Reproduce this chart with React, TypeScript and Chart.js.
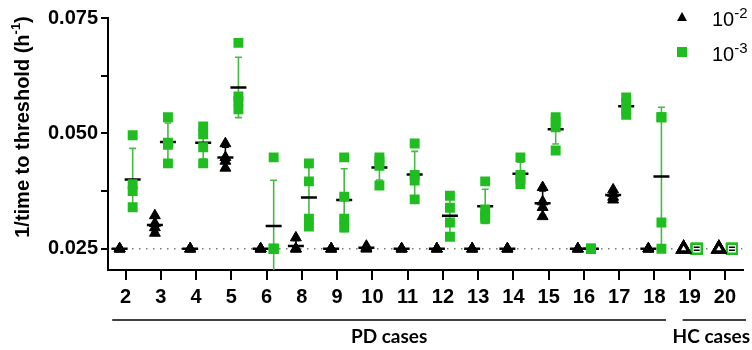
import React, { useEffect, useRef } from "react";
import { Chart, registerables } from "chart.js";

Chart.register(...registerables);

// ---------- data ----------
const caseLabels = ["2", "3", "4", "5", "6", "8", "9", "10", "11", "12", "13", "14", "15", "16", "17", "18", "19", "20"];
const hcCases = ["19", "20"];

// 1/time to threshold (h^-1), four replicates per case, dilution 10^-2
const dilution2Values: number[][] = [
  [0.025, 0.025, 0.025, 0.025],
  [0.0322, 0.0305, 0.0296, 0.0284],
  [0.025, 0.025, 0.025, 0.025],
  [0.0478, 0.0448, 0.044, 0.0425],
  [0.025, 0.025, 0.025, 0.025],
  [0.0274, 0.025, 0.025, 0.025],
  [0.025, 0.025, 0.025, 0.025],
  [0.0256, 0.0252, 0.025, 0.025],
  [0.025, 0.025, 0.025, 0.025],
  [0.025, 0.025, 0.025, 0.025],
  [0.025, 0.025, 0.025, 0.025],
  [0.025, 0.025, 0.025, 0.025],
  [0.0383, 0.0352, 0.034, 0.032],
  [0.025, 0.025, 0.025, 0.025],
  [0.0378, 0.037, 0.0362, 0.0356],
  [0.025, 0.025, 0.025, 0.025],
  [0.025, 0.025, 0.025, 0.025],
  [0.025, 0.025, 0.025, 0.025],
];

// dilution 10^-3
const dilution3Values: number[][] = [
  [0.0496, 0.039, 0.0375, 0.034],
  [0.0535, 0.048, 0.0475, 0.0435],
  [0.0515, 0.0498, 0.047, 0.0435],
  [0.0696, 0.058, 0.057, 0.0552],
  [0.0448, 0.025, 0.025, 0.025],
  [0.0435, 0.0396, 0.0315, 0.0298],
  [0.0448, 0.0363, 0.0315, 0.0296],
  [0.0448, 0.044, 0.043, 0.0387],
  [0.0478, 0.041, 0.0398, 0.0357],
  [0.0365, 0.0339, 0.0307, 0.0276],
  [0.0396, 0.0335, 0.0322, 0.0315],
  [0.0448, 0.041, 0.0402, 0.039],
  [0.0535, 0.0525, 0.0513, 0.0463],
  [0.025, 0.025, 0.025, 0.025],
  [0.0578, 0.0565, 0.0552, 0.054],
  [0.0535, 0.0535, 0.0307, 0.025],
  [0.025, 0.025, 0.025, 0.025],
  [0.025, 0.025, 0.025, 0.025],
];

const yTickValues = [0.025, 0.0375, 0.05, 0.0625, 0.075];
const yTickLabels = ["0.025", "", "0.050", "", "0.075"];
const thresholdValue = 0.025;
const seriesNames = ["10", "10"];
const seriesExponents = ["-2", "-3"];
const groupNames = ["PD cases", "HC cases"];
const yTitle = "1/time to threshold (h";
const yTitleExp = "-1";

// ---------- style ----------
const GREEN = "#1fbd1f";
const GREEN_BAR = "#45bb45";
const TRI_OFF = -0.17;
const SQ_OFF = 0.2;
const FONT = "'Liberation Sans', Arial, sans-serif";
const GROUP_FONT = "Lato, 'Liberation Sans', sans-serif";

function stats(vals: number[]) {
  const n = vals.length;
  const m = vals.reduce((a, b) => a + b, 0) / n;
  const v = vals.reduce((a, b) => a + (b - m) * (b - m), 0) / (n - 1);
  return { mean: m, sd: Math.sqrt(v) };
}

const isHC = (i: number) => hcCases.includes(caseLabels[i]);

function buildPoints(values: number[][], off: number) {
  const pts: any[] = [];
  values.forEach((reps, i) => {
    reps.forEach((v) => pts.push({ x: i + off, y: v, hc: isHC(i) }));
  });
  return pts;
}

const decorPlugin = {
  id: "decor",
  beforeDatasetsDraw(chart: any) {
    const { ctx, chartArea: a, scales } = chart;
    const x = scales.x;
    const y = scales.y;
    ctx.save();
    ctx.beginPath();
    ctx.rect(a.left, a.top - 10, a.right - a.left, a.bottom - a.top + 10);
    ctx.clip();
    // dotted threshold line
    const ty = y.getPixelForValue(thresholdValue);
    ctx.strokeStyle = "#7a7a7a";
    ctx.lineWidth = 1.5;
    ctx.setLineDash([1.5, 5.5]);
    ctx.beginPath();
    ctx.moveTo(a.left + 3, ty);
    ctx.lineTo(a.right, ty);
    ctx.stroke();
    ctx.setLineDash([]);

    const series = [
      { values: dilution2Values, off: TRI_OFF, color: "#000" },
      { values: dilution3Values, off: SQ_OFF, color: GREEN_BAR },
    ];
    series.forEach((s) => {
      s.values.forEach((reps, i) => {
        const { mean, sd } = stats(reps);
        const px = x.getPixelForValue(i + s.off);
        const pm = y.getPixelForValue(mean);
        if (sd > 1e-6) {
          const pt = y.getPixelForValue(mean + sd);
          const pb = y.getPixelForValue(mean - sd);
          ctx.strokeStyle = s.color;
          ctx.lineWidth = 1.6;
          ctx.beginPath();
          ctx.moveTo(px, pt);
          ctx.lineTo(px, pb);
          ctx.moveTo(px - 3.5, pt);
          ctx.lineTo(px + 3.5, pt);
          ctx.moveTo(px - 3.5, pb);
          ctx.lineTo(px + 3.5, pb);
          ctx.stroke();
        }
        if (!isHC(i)) {
          ctx.strokeStyle = "#000";
          ctx.lineWidth = 2.5;
          ctx.beginPath();
          ctx.moveTo(px - 8, pm);
          ctx.lineTo(px + 8, pm);
          ctx.stroke();
        }
      });
    });
    ctx.restore();
  },
  afterDatasetsDraw(chart: any) {
    const { ctx, scales } = chart;
    const x = scales.x;
    const y = scales.y;
    ctx.save();
    // mean marks inside the open markers of HC cases
    dilution3Values.forEach((reps, i) => {
      if (!isHC(i)) return;
      const { mean } = stats(reps);
      const px = x.getPixelForValue(i + SQ_OFF);
      const pm = y.getPixelForValue(mean);
      ctx.strokeStyle = "#000";
      ctx.lineWidth = 1.5;
      ctx.beginPath();
      ctx.moveTo(px - 3, pm - 1.5);
      ctx.lineTo(px + 3, pm - 1.5);
      ctx.moveTo(px - 3, pm + 1.5);
      ctx.lineTo(px + 3, pm + 1.5);
      ctx.stroke();
    });
    ctx.restore();
  },
  afterDraw(chart: any) {
    const { ctx, chartArea: a, scales } = chart;
    const x = scales.x;
    ctx.save();
    // y title, rotated, with superscript
    ctx.translate(23, 127);
    ctx.rotate(-Math.PI / 2);
    const mainFont = `bold 20px ${FONT}`;
    const supFont = `bold 13px ${FONT}`;
    ctx.font = mainFont;
    const w1 = ctx.measureText(yTitle).width;
    const w3 = ctx.measureText(")").width;
    ctx.font = supFont;
    const w2 = ctx.measureText(yTitleExp).width;
    const total = w1 + w2 + w3;
    let cx = -total / 2;
    ctx.fillStyle = "#000";
    ctx.textBaseline = "middle";
    ctx.textAlign = "left";
    ctx.font = mainFont;
    ctx.fillText(yTitle, cx, 0);
    cx += w1;
    ctx.font = supFont;
    ctx.fillText(yTitleExp, cx, -7);
    cx += w2;
    ctx.font = mainFont;
    ctx.fillText(")", cx, 0);
    ctx.restore();

    // group lines and labels
    ctx.save();
    const lineY = a.bottom + 50;
    const textY = a.bottom + 67;
    const groups = [
      { from: x.getPixelForValue(-0.38), to: x.getPixelForValue(15.33), name: groupNames[0], shift: 0 },
      { from: x.getPixelForValue(15.8), to: x.getPixelForValue(17.6), name: groupNames[1], shift: -3 },
    ];
    ctx.strokeStyle = "#000";
    ctx.lineWidth = 1.5;
    ctx.fillStyle = "#000";
    ctx.font = `bold 19px ${GROUP_FONT}`;
    ctx.textAlign = "center";
    ctx.textBaseline = "middle";
    groups.forEach((g) => {
      ctx.beginPath();
      ctx.moveTo(g.from, lineY);
      ctx.lineTo(g.to, lineY);
      ctx.stroke();
      ctx.fillText(g.name, (g.from + g.to) / 2 + g.shift, textY);
    });
    ctx.restore();

    // legend
    ctx.save();
    const lx = 682;
    const rows = [17, 52];
    ctx.fillStyle = "#000";
    ctx.beginPath();
    ctx.moveTo(lx, rows[0] - 5);
    ctx.lineTo(lx + 5, rows[0] + 4);
    ctx.lineTo(lx - 5, rows[0] + 4);
    ctx.closePath();
    ctx.fill();
    ctx.fillStyle = GREEN;
    ctx.fillRect(lx - 5, rows[1] - 5, 10, 10);
    ctx.fillStyle = "#000";
    ctx.textAlign = "left";
    ctx.textBaseline = "alphabetic";
    rows.forEach((ry, k) => {
      ctx.font = `20px ${FONT}`;
      ctx.fillText(seriesNames[k], 712, ry + 9);
      const w = ctx.measureText(seriesNames[k]).width;
      ctx.font = `15px ${FONT}`;
      ctx.fillText(seriesExponents[k], 712 + w, ry + 1);
    });
    ctx.restore();
  },
};

export default function App() {
  const ref = useRef<HTMLCanvasElement>(null);

  useEffect(() => {
    if (!ref.current) return;
    const tickFont = { family: FONT, size: 20, weight: "bold" as const };
    const chart = new Chart(ref.current, {
      type: "scatter",
      data: {
        datasets: [
          {
            label: "10^-2",
            data: buildPoints(dilution2Values, TRI_OFF),
            pointStyle: "triangle",
            pointRadius: 6.3,
            pointHoverRadius: 6.3,
            backgroundColor: (c: any) => (c.raw && c.raw.hc ? "#fff" : "#000"),
            borderColor: "#000",
            borderWidth: (c: any) => (c.raw && c.raw.hc ? 3.2 : 1),
          },
          {
            label: "10^-3",
            data: buildPoints(dilution3Values, SQ_OFF),
            pointStyle: "rect",
            pointRadius: 7,
            pointHoverRadius: 7,
            backgroundColor: (c: any) => (c.raw && c.raw.hc ? "#fff" : GREEN),
            borderColor: GREEN,
            borderWidth: (c: any) => (c.raw && c.raw.hc ? 2.2 : 0),
          },
        ],
      },
      options: {
        responsive: false,
        animation: false,
        devicePixelRatio: 1,
        layout: { padding: { left: 0, top: 18, right: 5, bottom: 0 } },
        plugins: {
          legend: { display: false },
          tooltip: { enabled: false },
          title: { display: false },
        },
        scales: {
          x: {
            type: "linear",
            min: -0.5,
            max: 17.5,
            afterBuildTicks: (s: any) => {
              s.ticks = caseLabels.map((_, i) => ({ value: i }));
            },
            afterFit: (s: any) => {
              s.height = 80;
            },
            ticks: {
              autoSkip: false,
              maxRotation: 0,
              padding: 5,
              color: "#000",
              font: tickFont,
              callback: (v: any) => caseLabels[Math.round(Number(v))] ?? "",
            },
            grid: { drawOnChartArea: false, drawTicks: true, tickLength: 10, color: "#000", lineWidth: 2 },
            border: { color: "#000", width: 2 },
          },
          y: {
            type: "linear",
            min: 0.0204,
            max: 0.075,
            afterBuildTicks: (s: any) => {
              s.ticks = yTickValues.map((v) => ({ value: v }));
            },
            afterFit: (s: any) => {
              s.width = 108;
            },
            ticks: {
              padding: 3,
              color: "#000",
              font: tickFont,
              callback: (_v: any, i: number) => yTickLabels[i],
            },
            grid: { drawOnChartArea: false, drawTicks: true, tickLength: 7, color: "#000", lineWidth: 2 },
            border: { color: "#000", width: 2 },
          },
        },
      },
      plugins: [decorPlugin],
    } as any);
    return () => chart.destroy();
  }, []);

  return (
    <div style={{ position: "fixed", left: 0, top: 0, width: 752, height: 350, background: "#fff" }}>
      <canvas ref={ref} width={752} height={350} style={{ display: "block" }} />
    </div>
  );
}
